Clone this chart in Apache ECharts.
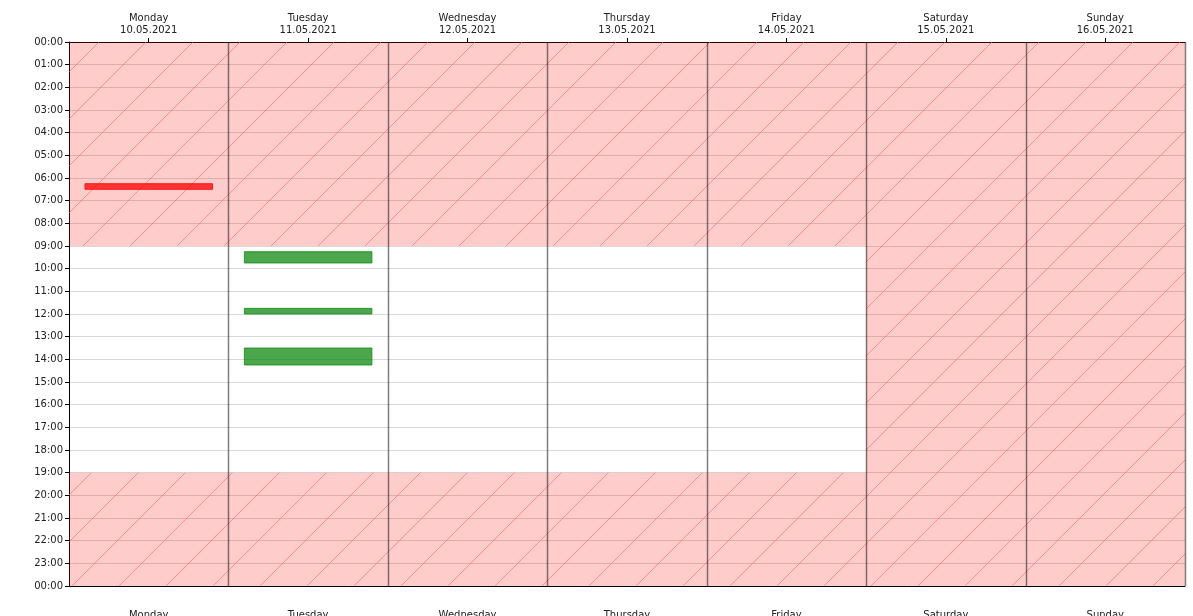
<!DOCTYPE html>
<html>
<head>
<meta charset="utf-8">
<script src="https://cdn.jsdelivr.net/npm/echarts@6/dist/echarts.min.js"></script>
<style>
html,body{margin:0;padding:0;background:#fff;}
#chart{width:1193px;height:616px;}
</style>
</head>
<body>
<div id="chart"></div>
<script>
// ---- data ----
const days = ['Monday', 'Tuesday', 'Wednesday', 'Thursday', 'Friday', 'Saturday', 'Sunday'];
const dates = ['10.05.2021', '11.05.2021', '12.05.2021', '13.05.2021', '14.05.2021', '15.05.2021', '16.05.2021'];
const hourLabels = ['00:00','01:00','02:00','03:00','04:00','05:00','06:00','07:00','08:00','09:00','10:00','11:00','12:00',
  '13:00','14:00','15:00','16:00','17:00','18:00','19:00','20:00','21:00','22:00','23:00','00:00'];
// unavailable (shaded) blocks: day index, start hour, end hour
const shadeDay   = [0, 0, 1, 1, 2, 2, 3, 3, 4, 4, 5, 6];
const shadeStart = [0, 19, 0, 19, 0, 19, 0, 19, 0, 19, 0, 0];
const shadeEnd   = [9, 24, 9, 24, 9, 24, 9, 24, 9, 24, 24, 24];
// events: day index, start hour, end hour, kind
const eventDay   = [0, 1, 1, 1];
const eventStart = [6.25, 9.25, 11.75, 13.5];
const eventEnd   = [6.5, 9.75, 12.0, 14.25];
const eventKind  = ['conflict', 'ok', 'ok', 'ok'];

// ---- build ----
const catLabels = days.map((d, i) => d + '\n' + dates[i]);
const shadeData = shadeDay.map((d, i) => [d, shadeStart[i], shadeEnd[i]]);
const eventData = eventDay.map((d, i) => [d, eventStart[i], eventEnd[i], eventKind[i] === 'conflict' ? 1 : 0]);
const sepData = days.map((d, i) => [i]);
const HATCH = 47;

function hatchLines(x0, y0, x1, y1) {
  const out = [];
  const cMin = Math.ceil((x0 + y0) / HATCH) * HATCH;
  for (let c = cMin; c <= x1 + y1; c += HATCH) {
    const xa = Math.max(x0, c - y1);
    const xb = Math.min(x1, c - y0);
    if (xb <= xa) continue;
    out.push({
      type: 'line',
      shape: {x1: xa, y1: c - xa, x2: xb, y2: c - xb},
      style: {stroke: 'rgba(255,90,90,0.55)', lineWidth: 1}
    });
  }
  return out;
}

const font = 'DejaVu Sans';
const chart = echarts.init(document.getElementById('chart'), null, {renderer: 'canvas'});

chart.setOption({
  animation: false,
  backgroundColor: '#fff',
  grid: {left: 69, right: 8, top: 42, bottom: 30, containLabel: false, outerBoundsMode: 'none'},
  xAxis: [{
    type: 'category', position: 'top', data: catLabels, boundaryGap: true,
    axisLine: {show: true, lineStyle: {color: '#000', width: 1}},
    axisTick: {show: true, alignWithLabel: true, length: 4, lineStyle: {color: '#000'}},
    axisLabel: {fontFamily: font, fontSize: 10, color: '#222', lineHeight: 12, margin: 6, interval: 0},
    splitLine: {show: false}
  }, {
    type: 'category', position: 'bottom', data: catLabels, boundaryGap: true,
    axisLine: {show: true, lineStyle: {color: '#000', width: 1}},
    axisTick: {show: false},
    axisLabel: {fontFamily: font, fontSize: 10, color: '#222', lineHeight: 12, margin: 23, interval: 0},
    splitLine: {show: false}
  }],
  yAxis: {
    type: 'value', inverse: true, min: 0, max: 24, interval: 1,
    axisLine: {show: true, lineStyle: {color: '#000', width: 1}},
    axisTick: {show: true, length: 4, lineStyle: {color: '#000'}},
    axisLabel: {fontFamily: font, fontSize: 10, color: '#222', margin: 6,
      formatter: v => hourLabels[Math.round(v)]},
    splitLine: {show: true, lineStyle: {color: '#d9d9d9', width: 1}}
  },
  series: [{
    type: 'custom', xAxisIndex: 0, z: 2, silent: true,
    data: shadeData,
    encode: {x: 0, y: [1, 2]},
    renderItem: function (params, api) {
      const p1 = api.coord([api.value(0), api.value(1)]);
      const p2 = api.coord([api.value(0), api.value(2)]);
      const w = api.size([1, 0])[0];
      const x = p1[0] - w / 2;
      const children = [{
        type: 'rect', shape: {x: x, y: p1[1], width: w, height: p2[1] - p1[1]},
        style: {fill: 'rgba(255,0,0,0.2)'}
      }].concat(hatchLines(x, p1[1], x + w, p2[1]));
      return {type: 'group', children: children};
    }
  }, {
    type: 'custom', xAxisIndex: 0, z: 3, silent: true,
    data: sepData,
    encode: {x: 0},
    renderItem: function (params, api) {
      const top = api.coord([api.value(0), 0]);
      const bot = api.coord([api.value(0), 24]);
      const w = api.size([1, 0])[0];
      const x = Math.round(top[0] + w / 2) + 0.5;
      return {
        type: 'line', shape: {x1: x, y1: top[1], x2: x, y2: bot[1]},
        style: {stroke: 'rgba(0,0,0,0.5)', lineWidth: 1.5}
      };
    }
  }, {
    type: 'custom', xAxisIndex: 0, z: 4, silent: true,
    data: eventData,
    encode: {x: 0, y: [1, 2]},
    renderItem: function (params, api) {
      const p1 = api.coord([api.value(0), api.value(1)]);
      const p2 = api.coord([api.value(0), api.value(2)]);
      const w = api.size([1, 0])[0] * 0.8;
      const bad = api.value(3) === 1;
      return {
        type: 'rect', shape: {x: p1[0] - w / 2, y: p1[1], width: w, height: p2[1] - p1[1]},
        style: {
          fill: bad ? 'rgba(255,0,0,0.75)' : 'rgba(0,128,0,0.7)',
          stroke: bad ? 'rgba(255,0,0,0.8)' : 'rgba(20,140,20,0.8)',
          lineWidth: 1
        }
      };
    }
  }]
});
</script>
</body>
</html>
